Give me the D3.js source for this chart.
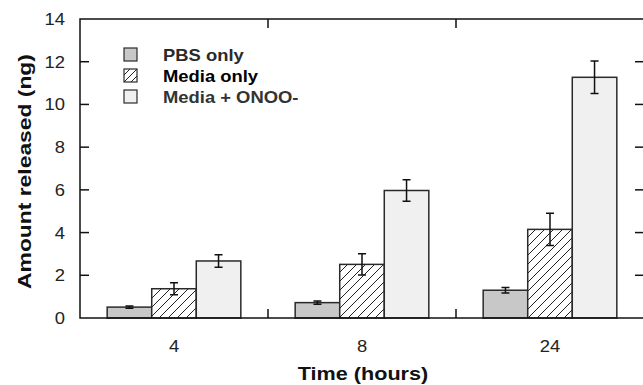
<!DOCTYPE html>
<html>
<head>
<meta charset="utf-8">
<script src="https://d3js.org/d3.v7.min.js"></script>
<style>
    body { margin: 0; background: #ffffff; }
    #chart .font { font-family: "Liberation Sans", Arial, sans-serif; }
    #chart .tick-label { font-size: 16px; fill: #222222; }
    #chart .axis-title { font-size: 18px; font-weight: bold; fill: #111111; }
    #chart .legend-label { font-size: 16px; font-weight: bold; }
</style>
</head>
<body>
<script>
    const TIMES = ["4", "8", "24"];
    const SERIES = ["PBS only", "Media only", "Media + ONOO-"];
    const PBS_VALUES = [0.51, 0.72, 1.30];
    const PBS_ERRORS = [0.05, 0.08, 0.13];
    const MEDIA_VALUES = [1.37, 2.51, 4.15];
    const MEDIA_ERRORS = [0.28, 0.50, 0.75];
    const ONOO_VALUES = [2.67, 5.97, 11.27];
    const ONOO_ERRORS = [0.29, 0.50, 0.76];
    const Y_TICKS = [0, 2, 4, 6, 8, 10, 12, 14];

    const WIDTH = 643;
    const HEIGHT = 385;
    const PLOT_LEFT = 80;
    const PLOT_RIGHT = 644;
    const PLOT_TOP = 19;
    const PLOT_BOTTOM = 318;
    const TICK_LEN = 9;

    const SERIES_VALUES = [PBS_VALUES, MEDIA_VALUES, ONOO_VALUES];
    const SERIES_ERRORS = [PBS_ERRORS, MEDIA_ERRORS, ONOO_ERRORS];
    const SERIES_FILLS = ["#c8c8c8", "url(#hatch)", "#f0f0f0"];
    const LEGEND_COLORS = ["#2a2a2a", "#000000", "#333333"];

    /**
     * Text placed at (x, y), slightly widened like the scanned original.
     */
    function addText(parent, x, y, str, cls, anchor, sx, rot) {
        var tr = "translate(" + x + "," + y + ")";
        if (rot) tr += " rotate(" + rot + ")";
        tr += " scale(" + sx + ",1)";
        return parent.append("text")
            .attr("class", cls)
            .attr("transform", tr)
            .attr("text-anchor", anchor)
            .text(str);
    }

    var svg = d3.select("body").append("svg")
        .attr("id", "chart")
        .attr("width", WIDTH)
        .attr("height", HEIGHT);

    var defs = svg.append("defs");
    var pattern = defs.append("pattern")
        .attr("id", "hatch")
        .attr("patternUnits", "userSpaceOnUse")
        .attr("width", 9)
        .attr("height", 9);
    pattern.append("rect")
        .attr("width", 9)
        .attr("height", 9)
        .attr("fill", "#ffffff");
    pattern.append("path")
        .attr("d", "M-1,10 L10,-1 M-2,2 L2,-2 M7,11 L11,7")
        .attr("stroke", "#222222")
        .attr("stroke-width", 1);

    var x0 = d3.scaleBand()
        .domain(TIMES)
        .range([PLOT_LEFT, PLOT_RIGHT])
        .paddingInner(0)
        .paddingOuter(0);

    var x1 = d3.scaleBand()
        .domain(SERIES)
        .range([0, x0.bandwidth()])
        .paddingInner(0)
        .paddingOuter(0.61);

    var y = d3.scaleLinear()
        .domain([0, 14])
        .range([PLOT_BOTTOM, PLOT_TOP]);

    // bars
    var groups = svg.append("g");
    SERIES.forEach(function(s, si) {
        TIMES.forEach(function(t, ti) {
            var v = SERIES_VALUES[si][ti];
            groups.append("rect")
                .attr("x", x0(t) + x1(s))
                .attr("y", y(v))
                .attr("width", x1.bandwidth())
                .attr("height", y(0) - y(v))
                .attr("fill", SERIES_FILLS[si])
                .attr("stroke", "#2a2a2a")
                .attr("stroke-width", 1.5);
        });
    });

    // error bars
    var errGroup = svg.append("g")
        .attr("stroke", "#111111")
        .attr("stroke-width", 1.5)
        .attr("fill", "none");
    SERIES.forEach(function(s, si) {
        TIMES.forEach(function(t, ti) {
            var v = SERIES_VALUES[si][ti];
            var e = SERIES_ERRORS[si][ti];
            var cx = x0(t) + x1(s) + x1.bandwidth() / 2;
            var yTop = y(v + e);
            var yBot = y(v - e);
            errGroup.append("path")
                .attr("d", "M" + cx + "," + yTop + "V" + yBot
                    + "M" + (cx - 4) + "," + yTop + "H" + (cx + 4)
                    + "M" + (cx - 4) + "," + yBot + "H" + (cx + 4));
        });
    });

    // frame
    svg.append("rect")
        .attr("x", PLOT_LEFT)
        .attr("y", PLOT_TOP)
        .attr("width", PLOT_RIGHT - PLOT_LEFT)
        .attr("height", PLOT_BOTTOM - PLOT_TOP)
        .attr("fill", "none")
        .attr("stroke", "#111111")
        .attr("stroke-width", 1.5);

    // y ticks (inward on both sides)
    var tickGroup = svg.append("g")
        .attr("stroke", "#111111")
        .attr("stroke-width", 1.5);
    Y_TICKS.forEach(function(t) {
        if (t === 0 || t === 14) return;
        tickGroup.append("line")
            .attr("x1", PLOT_LEFT).attr("x2", PLOT_LEFT + TICK_LEN)
            .attr("y1", y(t)).attr("y2", y(t));
        tickGroup.append("line")
            .attr("x1", PLOT_RIGHT - TICK_LEN).attr("x2", PLOT_RIGHT)
            .attr("y1", y(t)).attr("y2", y(t));
    });
    // category separators on top and bottom
    TIMES.slice(1).forEach(function(t) {
        tickGroup.append("line")
            .attr("x1", x0(t)).attr("x2", x0(t))
            .attr("y1", PLOT_BOTTOM).attr("y2", PLOT_BOTTOM - TICK_LEN);
        tickGroup.append("line")
            .attr("x1", x0(t)).attr("x2", x0(t))
            .attr("y1", PLOT_TOP).attr("y2", PLOT_TOP + TICK_LEN);
    });

    Y_TICKS.forEach(function(t) {
        addText(svg, 65, y(t) + 6, t, "font tick-label", "end", 1.15);
    });

    TIMES.forEach(function(t) {
        addText(svg, x0(t) + x0.bandwidth() / 2, 352, t, "font tick-label", "middle", 1.15);
    });

    addText(svg, 363, 380, "Time (hours)", "font axis-title", "middle", 1.2);
    addText(svg, 31, 171.5, "Amount released (ng)",
        "font axis-title", "middle", 1.27, -90);

    // legend
    var legend = svg.append("g");
    SERIES.forEach(function(s, i) {
        var ly = 48 + i * 21;
        legend.append("rect")
            .attr("x", 124)
            .attr("y", ly)
            .attr("width", 13)
            .attr("height", 13)
            .attr("fill", SERIES_FILLS[i] === "url(#hatch)" ? "#ffffff" : SERIES_FILLS[i])
            .attr("stroke", "#2a2a2a")
            .attr("stroke-width", 1.2);
        if (i === 1) {
            legend.append("path")
                .attr("d", "M124," + (ly + 13) + "L137," + ly + "M124," + (ly + 6) + "L130," + ly
                    + "M131," + (ly + 13) + "L137," + (ly + 7))
                .attr("stroke", "#222222")
                .attr("stroke-width", 1);
        }
        addText(legend, 163, ly + 12.5, s, "font legend-label", "start", 1.15)
            .attr("fill", LEGEND_COLORS[i]);
    });
</script>
</body>
</html>
